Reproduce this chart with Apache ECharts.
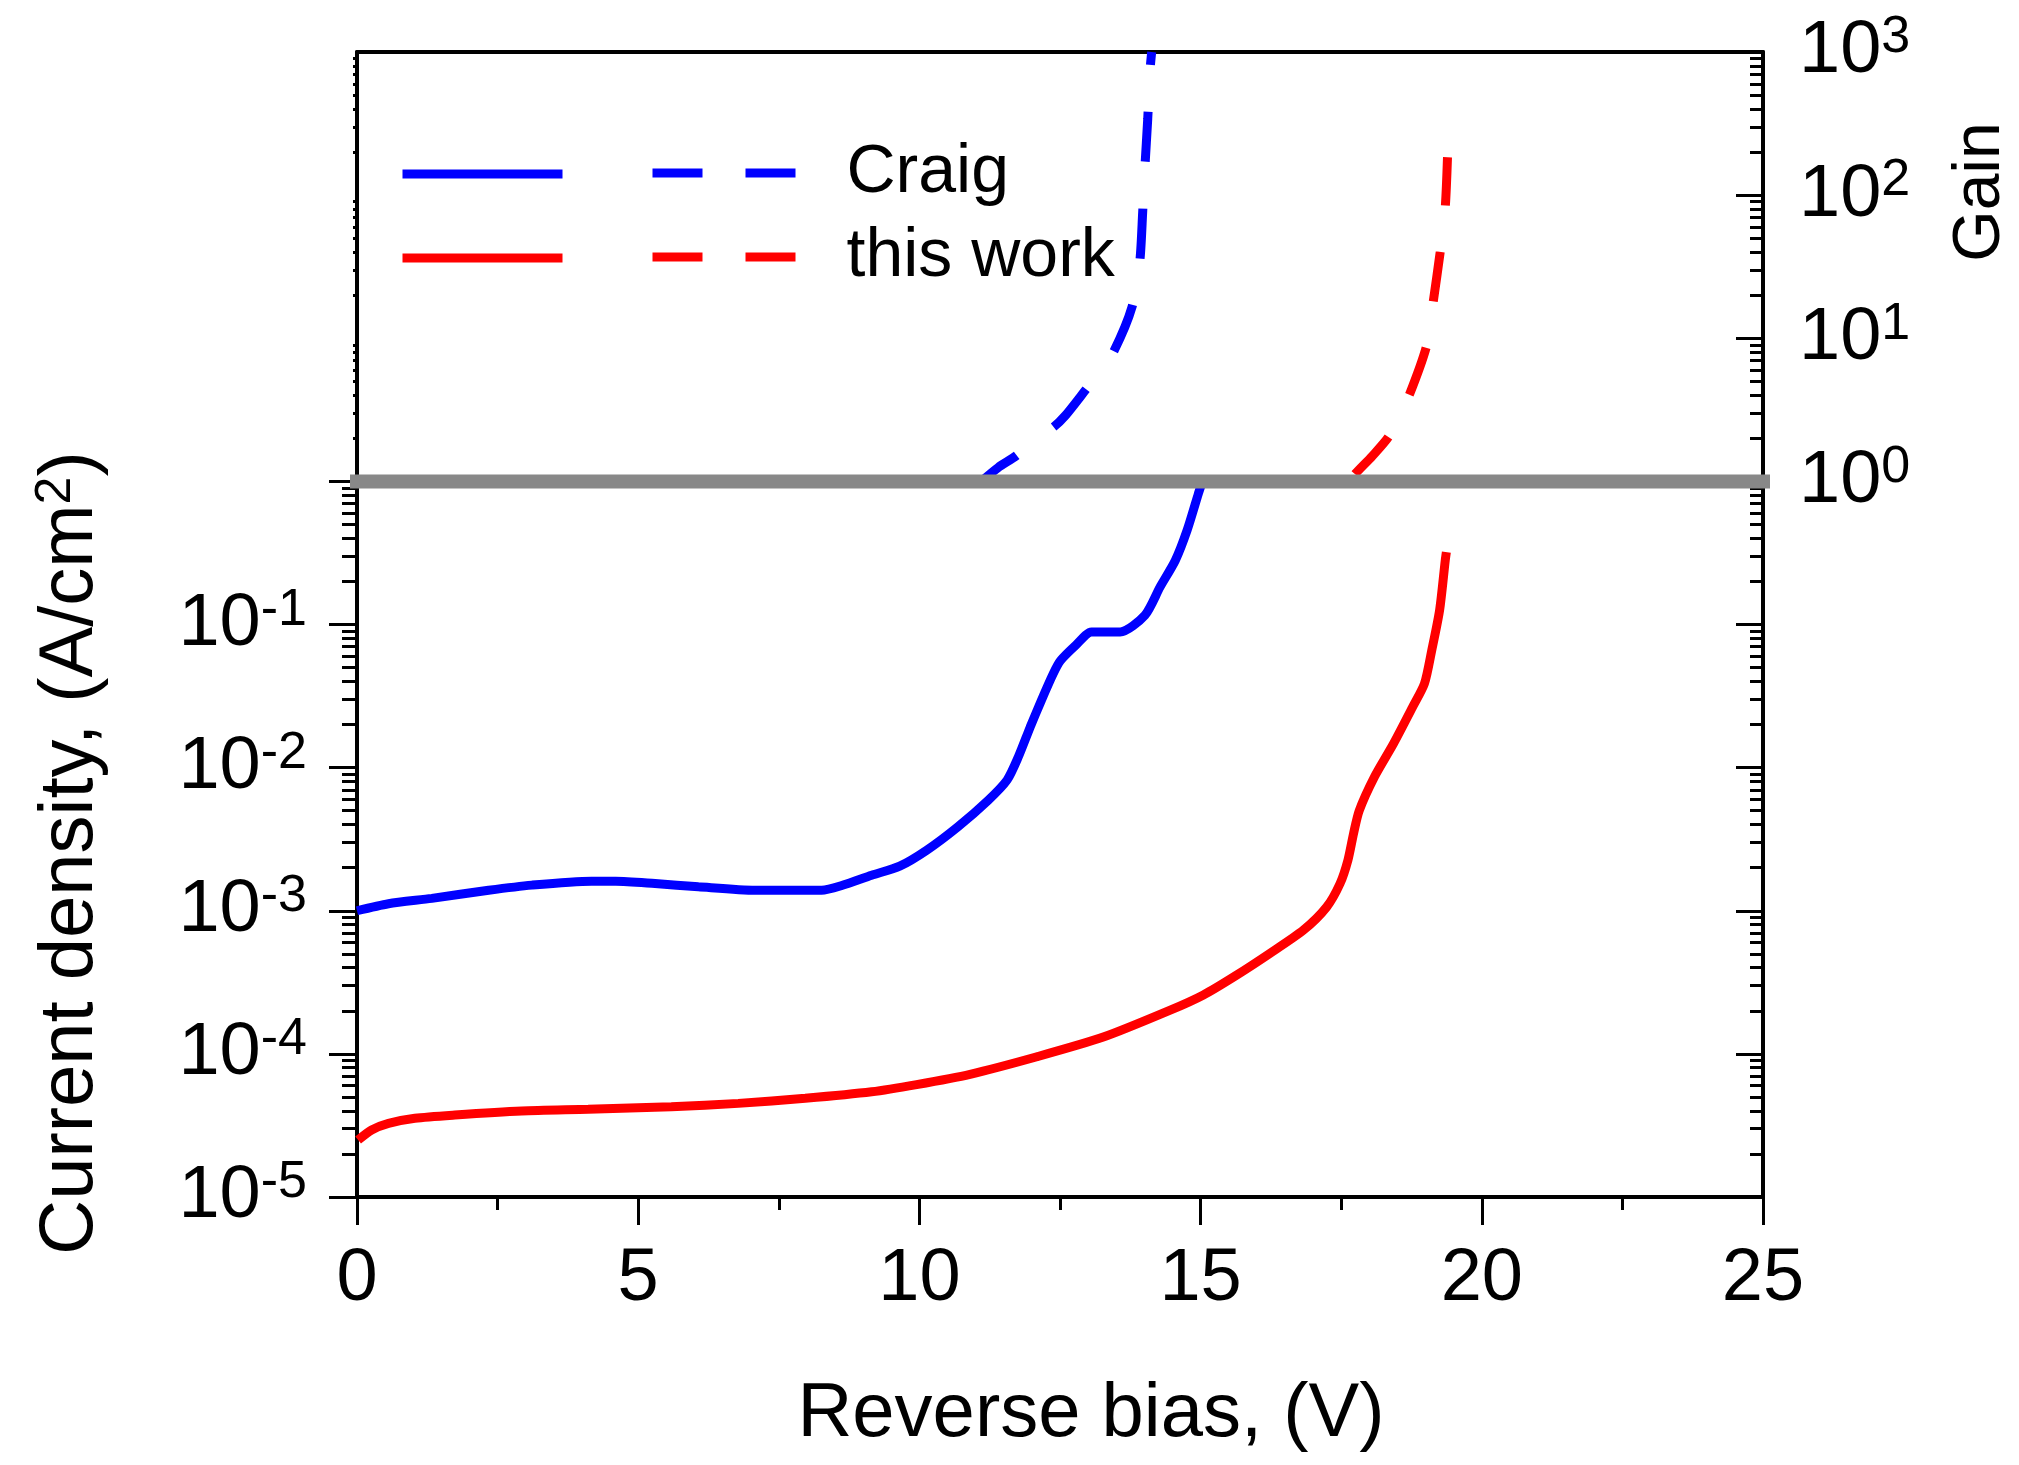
<!DOCTYPE html>
<html>
<head>
<meta charset="utf-8">
<script src="https://cdn.jsdelivr.net/npm/echarts@6/dist/echarts.min.js"></script>
<style>
html,body{margin:0;padding:0;background:#fff;}
#chart{width:2019px;height:1465px;}
</style>
</head>
<body>
<div id="chart"></div>
<script>
// ---- data ----
const craigBias = [0, 0.56, 1.33, 2.34, 3.11, 4.17, 4.6, 5.3, 6.07, 7.08, 8.26, 8.62, 9.15, 9.65, 10.13, 10.68, 11.22, 11.56, 11.76, 11.97, 12.17, 12.38, 12.51, 12.78, 13.06, 13.3, 13.57, 14.01, 14.28, 14.55, 14.76, 14.96, 15.03];
const craigCurrent = [1.0e-3, 1.12e-3, 1.22e-3, 1.39e-3, 1.51e-3, 1.61e-3, 1.61e-3, 1.55e-3, 1.47e-3, 1.39e-3, 1.39e-3, 1.50e-3, 1.77e-3, 2.05e-3, 2.65e-3, 3.85e-3, 5.9e-3, 8.2e-3, 0.0119, 0.0192, 0.0296, 0.0454, 0.056, 0.0716, 0.0887, 0.0887, 0.0887, 0.116, 0.183, 0.28, 0.455, 0.82, 1.0];

const workBias = [0.02, 0.26, 0.56, 1.03, 1.74, 2.93, 4.11, 5.59, 6.78, 7.97, 9.15, 9.95, 10.9, 12.09, 13.27, 14.46, 15.05, 15.64, 16.23, 16.83, 17.24, 17.48, 17.62, 17.72, 17.82, 18.09, 18.43, 18.77, 18.98, 19.11, 19.25, 19.35, 19.37];
const workCurrent = [2.5e-5, 2.94e-5, 3.27e-5, 3.55e-5, 3.74e-5, 3.99e-5, 4.10e-5, 4.27e-5, 4.51e-5, 4.89e-5, 5.43e-5, 6.1e-5, 7.2e-5, 9.55e-5, 1.31e-4, 2.02e-4, 2.58e-4, 3.55e-4, 5.03e-4, 7.33e-4, 1.06e-3, 1.55e-3, 2.26e-3, 3.47e-3, 5.0e-3, 8.6e-3, 0.0147, 0.0265, 0.0386, 0.066, 0.126, 0.28, 0.32];

const craigGainBias = [11.1, 11.4, 11.73, 12.05, 12.38, 12.6, 12.95, 13.2, 13.45, 13.78, 13.92, 13.97, 14.01, 14.06, 14.1, 14.13];
const craigGain = [1.0, 1.25, 1.52, 2.0, 2.39, 2.9, 4.33, 5.8, 8.0, 16.5, 34.9, 76, 157, 341, 741, 1000];

const workGainBias = [17.65, 17.75, 18.05, 18.34, 18.55, 18.72, 19.02, 19.14, 19.26, 19.35, 19.39];
const workGain = [1.0, 1.13, 1.5, 2.04, 3.0, 4.1, 8.9, 18.4, 40, 82, 184];

const xTicks = [0, 5, 10, 15, 20, 25];
const leftLabelValues = [1e-5, 1e-4, 1e-3, 1e-2, 1e-1];
const leftMajorTicks = [1e-5, 1e-4, 1e-3, 1e-2, 1e-1, 1];
const rightLabelValues = [1, 10, 100, 1000];
const rightMajorTicks = [1e-5, 1e-4, 1e-3, 1e-2, 1e-1, 1, 10, 100, 1000];
const lowerDecades = [-5, -4, -3, -2, -1];
const upperDecades = [0, 1, 2];

function minorValues(decades) {
  const out = [];
  decades.forEach(d => { for (let k = 2; k <= 9; k++) out.push(parseFloat((k * Math.pow(10, d)).toPrecision(6))); });
  return out;
}
const leftMinorLower = minorValues(lowerDecades);
const leftMinorUpper = minorValues(upperDecades);
const rightMinor = minorValues(lowerDecades.concat(upperDecades));

const FONT = '"Liberation Sans", Arial, sans-serif';
const pairs = (xs, ys) => xs.map((x, i) => [x, ys[i]]);

function expLabel(v) {
  const e = Math.round(Math.log10(v));
  return '{b|10}{s|' + e + '}';
}
const expRich = {
  b: { fontSize: 74, lineHeight: 80, fontFamily: FONT, color: '#000' },
  s: { fontSize: 52, lineHeight: 28, verticalAlign: 'top', fontFamily: FONT, color: '#000' }
};

const logBase = { type: 'log', logBase: 10, min: 1e-5, max: 1e3, splitLine: { show: false }, minorTick: { show: false }, minorSplitLine: { show: false } };
const LW = 9;

const chart = echarts.init(document.getElementById('chart'), null, { renderer: 'canvas' });
chart.setOption({
  animation: false,
  backgroundColor: '#fff',
  grid: { left: 357, right: 256, top: 52, bottom: 268, containLabel: false, outerBoundsMode: 'none' },
  xAxis: [
    {
      type: 'value', position: 'bottom', min: 0, max: 25, interval: 5,
      axisLine: { lineStyle: { color: '#000', width: 4 } },
      axisTick: { length: 28, lineStyle: { color: '#000', width: 3 } },
      minorTick: { show: true, splitNumber: 2, length: 13, lineStyle: { color: '#000', width: 3 } },
      splitLine: { show: false },
      axisLabel: { fontSize: 74, lineHeight: 80, margin: 43, color: '#000', fontFamily: FONT },
      name: 'Reverse bias, (V)', nameLocation: 'middle', nameGap: 178,
      nameTextStyle: { fontSize: 76, lineHeight: 80, color: '#000', fontFamily: FONT, padding: [0, 0, 0, 62] }
    },
    {
      type: 'value', position: 'top', min: 0, max: 25,
      axisLine: { lineStyle: { color: '#000', width: 4 } },
      axisTick: { show: false }, axisLabel: { show: false }, splitLine: { show: false }
    }
  ],
  yAxis: [
    Object.assign({}, logBase, {
      position: 'left',
      axisLine: { show: true, lineStyle: { color: '#000', width: 4 } },
      axisTick: { show: true, length: 28, customValues: leftMajorTicks, lineStyle: { color: '#000', width: 3 } },
      axisLabel: { show: true, customValues: leftLabelValues, formatter: expLabel, rich: expRich, margin: 50 },
      name: 'Current density, (A/cm{sup|2})', nameLocation: 'middle', nameGap: 246, nameRotate: 90,
      nameTextStyle: {
        fontSize: 76, lineHeight: 80, color: '#000', fontFamily: FONT, padding: [0, 457, 0, 0],
        rich: { sup: { fontSize: 50, lineHeight: 30, verticalAlign: 'top', color: '#000', fontFamily: FONT } }
      }
    }),
    Object.assign({}, logBase, {
      position: 'left',
      axisLine: { show: false },
      axisTick: { show: true, length: 15, customValues: leftMinorLower, lineStyle: { color: '#000', width: 3 } },
      axisLabel: { show: false }
    }),
    Object.assign({}, logBase, {
      position: 'left',
      axisLine: { show: false },
      axisTick: { show: true, length: 4, customValues: leftMinorUpper, lineStyle: { color: '#000', width: 3 } },
      axisLabel: { show: false }
    }),
    Object.assign({}, logBase, {
      position: 'right',
      axisLine: { show: true, lineStyle: { color: '#000', width: 4 } },
      axisTick: { show: true, inside: true, length: 27, customValues: rightMajorTicks, lineStyle: { color: '#000', width: 3 } },
      axisLabel: { show: true, customValues: rightLabelValues, formatter: expLabel, rich: expRich, margin: 36 },
      name: 'Gain', nameLocation: 'middle', nameGap: 178, nameRotate: 90,
      nameTextStyle: { fontSize: 66, lineHeight: 80, color: '#000', fontFamily: FONT, padding: [0, 0, 0, 865] }
    }),
    Object.assign({}, logBase, {
      position: 'right',
      axisLine: { show: false },
      axisTick: { show: true, inside: true, length: 13, customValues: rightMinor, lineStyle: { color: '#000', width: 3 } },
      axisLabel: { show: false }
    })
  ],
  legend: [
    { data: ['Craig (J)'], left: 398, top: 139, padding: 0, itemWidth: 160, itemHeight: 70, selectedMode: false, formatter: () => '',
      itemStyle: { opacity: 0 }, lineStyle: { width: LW, type: 'solid' } },
    { data: ['this work (J)'], left: 398, top: 223, padding: 0, itemWidth: 160, itemHeight: 70, selectedMode: false, formatter: () => '',
      itemStyle: { opacity: 0 }, lineStyle: { width: LW, type: 'solid' } },
    { data: ['Craig'], left: 648, top: 139, padding: 0, itemWidth: 143, itemHeight: 70, selectedMode: false,
      itemStyle: { opacity: 0 }, lineStyle: { width: LW, type: [50, 43], dashOffset: 0 },
      textStyle: { fontSize: 68, color: '#000', fontFamily: FONT, padding: [0, 0, 0, 46] } },
    { data: ['this work'], left: 648, top: 223, padding: 0, itemWidth: 143, itemHeight: 70, selectedMode: false,
      itemStyle: { opacity: 0 }, lineStyle: { width: LW, type: [50, 43], dashOffset: 0 },
      textStyle: { fontSize: 68, color: '#000', fontFamily: FONT, padding: [0, 0, 0, 46] } }
  ],
  series: [
    { name: 'Craig (J)', type: 'line', xAxisIndex: 0, yAxisIndex: 0, data: pairs(craigBias, craigCurrent),
      showSymbol: false, symbol: 'none', smooth: 0.25, color: '#0000ff', lineStyle: { color: '#0000ff', width: LW }, z: 3 },
    { name: 'this work (J)', type: 'line', xAxisIndex: 0, yAxisIndex: 0, data: pairs(workBias, workCurrent),
      showSymbol: false, symbol: 'none', smooth: 0.25, color: '#ff0000', lineStyle: { color: '#ff0000', width: LW }, z: 3 },
    { name: 'Craig', type: 'line', xAxisIndex: 0, yAxisIndex: 3, data: pairs(craigGainBias, craigGain),
      showSymbol: false, symbol: 'none', smooth: 0.25, color: '#0000ff', lineStyle: { color: '#0000ff', width: LW, type: [50, 47], dashOffset: 6 }, z: 3 },
    { name: 'this work', type: 'line', xAxisIndex: 0, yAxisIndex: 3, data: pairs(workGainBias, workGain),
      showSymbol: false, symbol: 'none', smooth: 0.25, color: '#ff0000', lineStyle: { color: '#ff0000', width: LW, type: [50, 47], dashOffset: 88 }, z: 3 },
    { name: 'unity', type: 'line', xAxisIndex: 0, yAxisIndex: 0, data: [[0, 1], [25, 1]], clip: false,
      showSymbol: false, symbol: 'none', silent: true, color: '#888888', lineStyle: { color: '#888888', width: 14, cap: 'square' }, z: 4 }
  ]
});
</script>
</body>
</html>
